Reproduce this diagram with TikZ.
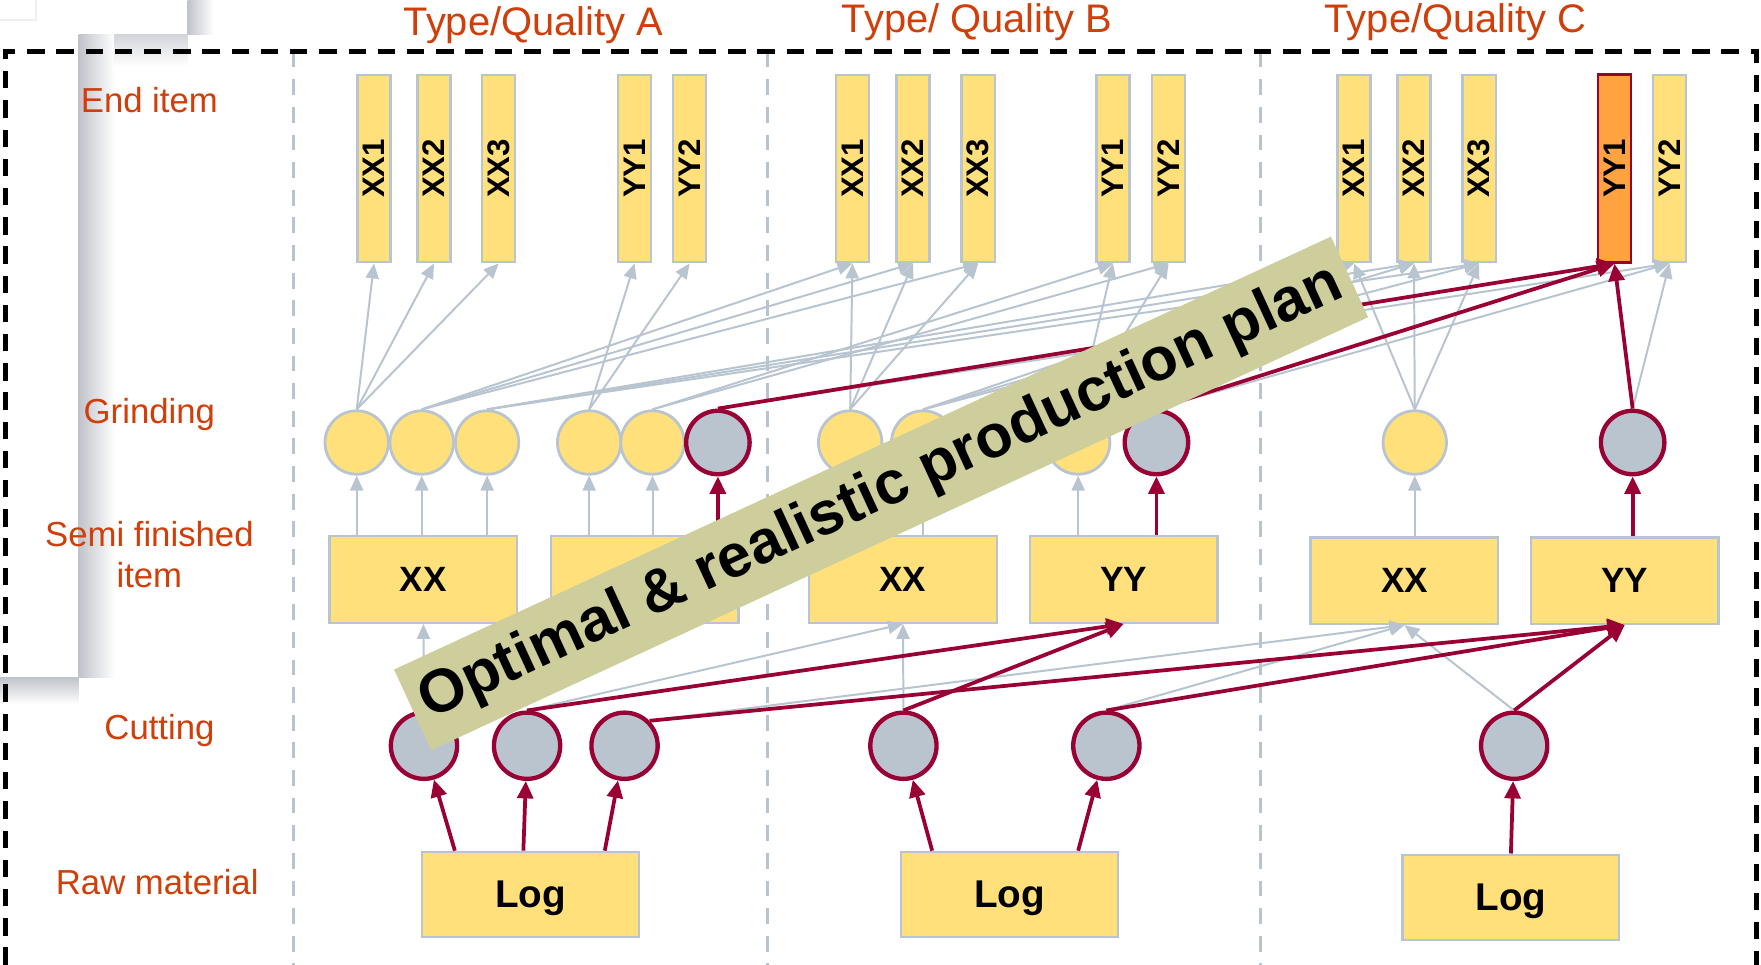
\documentclass[tikz,border=0pt]{standalone}
\usepackage{fontspec}
\setmainfont{Liberation Sans}
\usepackage{tikz}
\usetikzlibrary{arrows.meta}

\definecolor{itemyellow}{RGB}{255,224,122}
\definecolor{edgegray}{RGB}{184,196,208}
\definecolor{slategray}{RGB}{185,196,207}
\definecolor{planred}{RGB}{153,0,51}
\definecolor{pickorange}{RGB}{255,163,64}
\definecolor{labelred}{RGB}{208,62,10}
\definecolor{bannergreen}{RGB}{205,206,155}
\definecolor{shadowgray}{RGB}{192,195,202}

\begin{document}
\begin{tikzpicture}[>={Triangle[length=3.8pt,width=3.3pt]},
enditem/.style={rectangle,draw=edgegray,fill=itemyellow,line width=0.6pt,rotate=90,minimum width=1.67cm,minimum height=0.295cm,inner sep=0pt,font=\bfseries\fontsize{7.9}{9}\selectfont},
pickitem/.style={enditem,draw=planred,fill=pickorange,line width=0.7pt},
grindnode/.style={circle,draw=edgegray,fill=itemyellow,line width=0.7pt,minimum size=0.565cm,inner sep=0pt},
picknode/.style={grindnode,draw=planred,fill=slategray,line width=1.1pt},
cutnode/.style={picknode,minimum size=0.59cm},
semibox/.style={rectangle,draw=edgegray,fill=itemyellow,line width=0.6pt,minimum width=1.67cm,minimum height=0.77cm,inner sep=0pt,font=\bfseries\fontsize{8.9}{10}\selectfont},
logbox/.style={semibox,minimum width=1.93cm,minimum height=0.76cm,text depth=0pt,font=\bfseries\fontsize{9.8}{11}\selectfont},
rowlabel/.style={text=labelred,align=center,font=\fontsize{8.8}{10.4}\selectfont},
typelabel/.style={text=labelred,font=\fontsize{10.1}{12}\selectfont},
banner/.style={rectangle,fill=bannergreen,minimum width=9.19cm,minimum height=0.79cm,inner sep=0pt,font=\bfseries\fontsize{15.4}{18}\selectfont},
feed/.style={->,draw=edgegray,line width=0.5pt},
plan/.style={-{Triangle[length=4.4pt,width=4pt]},draw=planred,line width=0.95pt}]

\useasboundingbox (0,0) rectangle (15.68,8.59);
\fill [white] (0,0) rectangle (15.68,8.59);

%\fill [white] (0,2.56) rectangle (0.70,8.59);
\shade [left color=shadowgray,right color=white] (0.70,2.56) rectangle (1.02,8.28);
\shade [top color=shadowgray!70,bottom color=white] (1.02,8.28) rectangle (1.67,8.0);
\shade [left color=shadowgray,right color=white] (1.67,8.28) rectangle (1.90,8.59);
\shade [top color=shadowgray,bottom color=white] (0,2.56) rectangle (0.70,2.32);
\draw [gray!12] (0,8.41) -- (0.32,8.41) -- (0.32,8.59);

\draw [edgegray,line width=0.8pt,dash pattern=on 4pt off 3pt] (2.61,8.13) -- (2.61,0);
\draw [edgegray,line width=0.8pt,dash pattern=on 4pt off 3pt] (6.83,8.13) -- (6.83,0);
\draw [edgegray,line width=0.8pt,dash pattern=on 4pt off 3pt] (11.22,8.13) -- (11.22,0);
\draw [line width=1.1pt,dash pattern=on 4.4pt off 3pt] (0.05,0) -- (0.05,8.13) -- (15.64,8.13) -- (15.64,0);

\node [typelabel] (ta) at (4.75, 8.37) {Type/Quality A};
\node [typelabel] (tb) at (8.70, 8.39) {Type/ Quality B};
\node [typelabel] (tc) at (12.96, 8.39) {Type/Quality C};

\node [rowlabel] (r1) at (1.33, 7.70) {End item};
\node [rowlabel] (r2) at (1.33, 4.90) {Grinding};
\node [rowlabel] (r3) at (1.33, 3.655) {Semi finished\\item};
\node [rowlabel] (r4) at (1.42, 2.09) {Cutting};
\node [rowlabel] (r5) at (1.40, 0.74) {Raw material};

\node [enditem] (xa1) at (3.33, 7.09) {XX1};
\node [enditem] (xa2) at (3.865, 7.09) {XX2};
\node [enditem] (xa3) at (4.44, 7.09) {XX3};
\node [enditem] (ya1) at (5.65, 7.09) {YY1};
\node [enditem] (ya2) at (6.14, 7.09) {YY2};
\node [enditem] (xb1) at (7.59, 7.09) {XX1};
\node [enditem] (xb2) at (8.13, 7.09) {XX2};
\node [enditem] (xb3) at (8.71, 7.09) {XX3};
\node [enditem] (yb1) at (9.91, 7.09) {YY1};
\node [enditem] (yb2) at (10.405, 7.09) {YY2};
\node [enditem] (xc1) at (12.055, 7.09) {XX1};
\node [enditem] (xc2) at (12.59, 7.09) {XX2};
\node [enditem] (xc3) at (13.17, 7.09) {XX3};
\node [pickitem] (yc1) at (14.375, 7.09) {YY1};
\node [enditem] (yc2) at (14.865, 7.09) {YY2};

\node [grindnode] (gA1) at (3.176, 4.65) {};
\node [grindnode] (gA2) at (3.755, 4.65) {};
\node [grindnode] (gA3) at (4.337, 4.65) {};
\node [grindnode] (gA4) at (5.246, 4.65) {};
\node [grindnode] (gA5) at (5.81, 4.65) {};
\node [picknode] (gA6) at (6.392, 4.65) {};
\node [grindnode] (gB1) at (7.57, 4.65) {};
\node [grindnode] (gB2) at (8.22, 4.65) {};
\node [grindnode] (gB3) at (9.60, 4.65) {};
\node [picknode] (gB4) at (10.297, 4.65) {};
\node [grindnode] (gC1) at (12.597, 4.65) {};
\node [picknode] (gC2) at (14.537, 4.65) {};

\node [semibox] (xxA) at (3.77, 3.43) {XX};
\node [semibox] (yyA) at (5.74, 3.43) {};
\node [semibox] (xxB) at (8.04, 3.43) {XX};
\node [semibox] (yyB) at (10.005, 3.43) {YY};
\node [semibox] (xxC) at (12.505, 3.42) {XX};
\node [semibox] (yyC) at (14.467, 3.42) {YY};

\node [cutnode] (cut1) at (3.775, 1.95) {};
\node [cutnode] (cut2) at (4.693, 1.95) {};
\node [cutnode] (cut3) at (5.561, 1.95) {};
\node [cutnode] (cut4) at (8.044, 1.95) {};
\node [cutnode] (cut5) at (9.851, 1.95) {};
\node [cutnode] (cut6) at (13.482, 1.95) {};

\node [logbox] (logA) at (4.725, 0.625) {Log};
\node [logbox] (logB) at (8.99, 0.625) {Log};
\node [logbox] (logC) at (13.453, 0.60) {Log};

\draw [feed] (gA1.north) to (xa1.west);
\draw [feed] (gA1.north) to (xa2.west);
\draw [feed] (gA1.north) to (xa3.west);
\draw [feed] (gA2.north) to (xb1.west);
\draw [feed] (gA2.north) to (xb2.west);
\draw [feed] (gA2.north) to (xb3.west);
\draw [feed] (gA3.north) to (xc1.west);
\draw [feed] (gA3.north) to (xc2.west);
\draw [feed] (gA3.north) to (xc3.west);
\draw [feed] (gA4.north) to (ya1.west);
\draw [feed] (gA4.north) to (ya2.west);
\draw [feed] (gA5.north) to (yb1.west);
\draw [feed] (gA5.north) to (yb2.west);
\draw [feed] (gA6.north) to (yc2.west);
\draw [feed] (gB1.north) to (xb1.west);
\draw [feed] (gB1.north) to (xb2.west);
\draw [feed] (gB1.north) to (xb3.west);
\draw [feed] (gB2.north) to (xc1.west);
\draw [feed] (gB2.north) to (xc2.west);
\draw [feed] (gB2.north) to (xc3.west);
\draw [feed] (gB3.north) to (yb1.west);
\draw [feed] (gB3.north) to (yb2.west);
\draw [feed] (gB4.north) to (yc2.west);
\draw [feed] (gC1.north) to (xc1.west);
\draw [feed] (gC1.north) to (xc2.west);
\draw [feed] (gC1.north) to (xc3.west);
\draw [feed] (gC2.north) to (yc2.west);

\draw [feed] (xxA.north -| gA1) to (gA1);
\draw [feed] (xxA.north -| gA2) to (gA2);
\draw [feed] (xxA.north -| gA3) to (gA3);
\draw [feed] (yyA.north -| gA4) to (gA4);
\draw [feed] (yyA.north -| gA5) to (gA5);
\draw [feed] (xxB.north -| gB1) to (gB1);
\draw [feed] (xxB.north -| gB2) to (gB2);
\draw [feed] (yyB.north -| gB3) to (gB3);
\draw [feed] (xxC.north -| gC1) to (gC1);

\draw [feed] (cut1.north) to (xxA.south);
\draw [feed] (cut2.north) to (xxB.south);
\draw [feed] (cut3.north east) to (xxC.south);
\draw [feed] (cut4.north) to (xxB.south);
\draw [feed] (cut5.north) to (xxC.south);
\draw [feed] (cut6.north) to (xxC.south);

\draw [plan] (gA6.north) to (yc1.west);
\draw [plan] (gB4.north) to (yc1.west);
\draw [plan] (gC2.north) to (yc1.west);
\draw [plan] (yyA.north -| gA6) to (gA6);
\draw [plan] (yyB.north -| gB4) to (gB4);
\draw [plan] (yyC.north -| gC2) to (gC2);

\draw [plan] (cut1.north) to (yyA.south);
\draw [plan] (cut2.north) to (yyB.south);
\draw [plan] (cut3.north east) to (yyC.south);
\draw [plan] (cut4.north) to (yyB.south);
\draw [plan] (cut5.north) to (yyC.south);
\draw [plan] (cut6.north) to (yyC.south);

\draw [plan] ([xshift=-0.675cm]logA.north) to (cut1);
\draw [plan] ([xshift=-0.065cm]logA.north) to (cut2);
\draw [plan] ([xshift=0.66cm]logA.north) to (cut3);
\draw [plan] ([xshift=-0.69cm]logB.north) to (cut4);
\draw [plan] ([xshift=0.61cm]logB.north) to (cut5);
\draw [plan] (logC.north) to (cut6);

\node [banner,rotate=24.8] (opt) at (7.845, 4.197) {Optimal \& realistic production plan};
\end{tikzpicture}
\end{document}
